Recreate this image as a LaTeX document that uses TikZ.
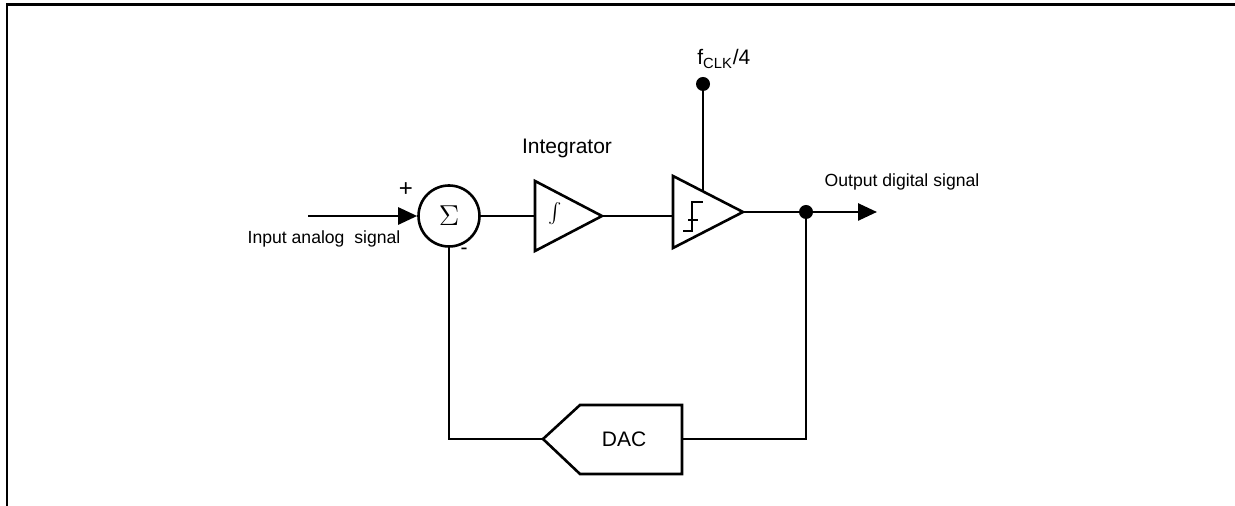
\documentclass[tikz,border=0pt]{standalone}
\usepackage{fontspec}
\setmainfont{Liberation Sans}
\usetikzlibrary{arrows.meta}
\begin{document}
\begin{tikzpicture}[x=0.5pt,y=-0.5pt,
  wire/.style={line width=1.3pt},
  arr/.style={wire,-{Triangle[length=9.5pt,width=8.5pt]}},
  blk/.style={line width=1.3pt,line join=miter},
  dotn/.style={circle,fill=black,inner sep=0pt,minimum size=7pt},
  lbl/.style={inner sep=0pt,font=\fontsize{8.8pt}{10pt}\selectfont},
  lblb/.style={inner sep=0pt,font=\fontsize{10.5pt}{12pt}\selectfont}]
\useasboundingbox (0,0) rectangle (1235,506);
% frame
\draw[line width=1.3pt] (7,506) -- (7,4.5) -- (1236,4.5);
% coordinates
\coordinate (in) at (308,216);
\node[draw,circle,line width=1.3pt,minimum size=30.5pt,inner sep=0pt,font=\fontsize{14pt}{16pt}\selectfont] (sig) at (449,216) {$\Sigma$};
\coordinate (i1) at (535,181);
\coordinate (i2) at (602,216);
\coordinate (i3) at (535,251);
\coordinate (iin) at (535,216);
\coordinate (c1) at (673,176);
\coordinate (c2) at (743,212);
\coordinate (c3) at (673,248);
\coordinate (cin) at (673,216);
\coordinate (ctop) at (703,191.4);
\node[dotn] (clk) at (703,84) {};
\node[dotn] (jn) at (806,212) {};
\coordinate (out) at (877,212);
\coordinate (d1) at (543,439);
\coordinate (d2) at (580,405);
\coordinate (d3) at (682,405);
\coordinate (d4) at (682,474);
\coordinate (d5) at (580,474);
\coordinate (dr) at (682,439);
\coordinate (fl) at (449,439);
\coordinate (fr) at (806,439);
% blocks
\draw[blk] (i1) -- (i2) -- (i3) -- cycle;
\draw[blk] (c1) -- (c2) -- (c3) -- cycle;
\draw[blk] (d1) -- (d2) -- (d3) -- (d4) -- (d5) -- cycle;
\node[inner sep=0pt,font=\fontsize{12pt}{14pt}\selectfont] (intsym) at (555,214) {$\int$};
\draw[line width=1.3pt] (683,231) -- (692,231) -- (692,202) -- (703,202);
\draw[line width=1.3pt] (688,220) -- (698,220);
% connectors
\draw[arr] (in) -- (sig.west);
\draw[wire] (sig.east) -- (iin);
\draw[wire] (i2) -- (cin);
\draw[wire] (clk) -- (ctop);
\draw[arr] (c2) -- (out);
\draw[wire] (jn) -- (fr) -- (dr);
\draw[wire] (d1) -- (fl) -- (sig.south);
% labels
\node[inner sep=0pt,font=\fontsize{12pt}{14pt}\selectfont] (plus) at (406,190) {+};
\node[lblb] (minus) at (464,251) {-};
\node[lbl] (inl) at (324,239) {Input analog\ \ signal};
\node[lblb] (intl) at (567,148) {Integrator};
\node[lbl] (outl) at (902,182) {Output digital signal};
\node[lblb] (dacl) at (624,439) {DAC};
\node[lblb,anchor=base west] (fclk) at (697,65) {f\textsubscript{CLK}/4};
\end{tikzpicture}
\end{document}
